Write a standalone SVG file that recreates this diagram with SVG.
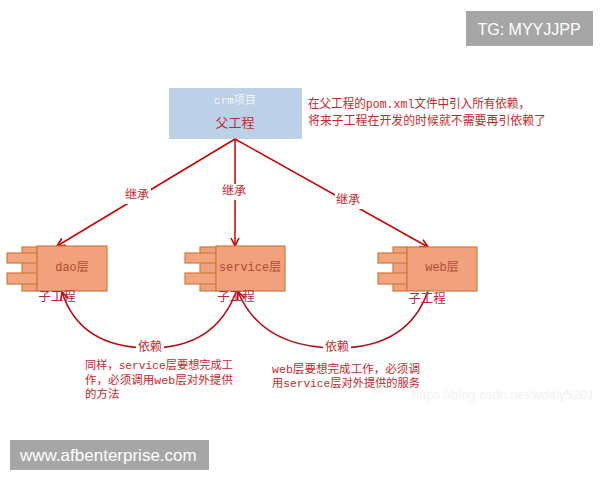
<svg xmlns="http://www.w3.org/2000/svg" width="600" height="480" viewBox="0 0 600 480">
<defs>
<marker id="arr" viewBox="0 0 10 10" refX="9" refY="5" markerWidth="10" markerHeight="10" markerUnits="userSpaceOnUse" orient="auto">
<path d="M1,1 L9,5 L1,9" fill="none" stroke="#c80000" stroke-width="1.6"/>
</marker>
<style>
.cjk{font-family:"Liberation Mono","Noto Sans CJK SC",monospace;}
.red{fill:#c8282d;}
.lbl{fill:#b24a3a;font-size:12px;text-anchor:middle;dominant-baseline:central;}
.sub{fill:#b42a3c;font-size:12.5px;text-anchor:middle;dominant-baseline:central;}
.main{fill:#f1a17c;stroke:#cd7c3e;stroke-width:1.2;}
.back{fill:#efa07c;stroke:#cd7c3e;stroke-width:1.2;}
.tab{fill:#f2a57f;stroke:#cd7c3e;stroke-width:1.2;}
.line{fill:none;stroke:#c80000;stroke-width:1.5;}
.arc{fill:none;stroke:#b40f14;stroke-width:1.6;}
.wm{fill:#a6a6a6;}
.wmt{fill:#ffffff;font-family:"Liberation Sans",Arial,sans-serif;dominant-baseline:central;}
</style>
</defs>
<rect width="600" height="480" fill="#ffffff"/>

<g id="parent">
<rect x="169" y="88" width="133" height="51" fill="#bcd0e8"/>
<text x="235" y="101" class="cjk" font-size="11" fill="#f4f6fa" text-anchor="middle" dominant-baseline="central">crm项目</text>
<text x="235" y="123" class="cjk red" font-size="13" text-anchor="middle" dominant-baseline="central">父工程</text>
</g>

<g id="note">
<text x="308" y="105" class="cjk red" font-size="12.5" dominant-baseline="central" textLength="222" lengthAdjust="spacingAndGlyphs">在父工程的pom.xml文件中引入所有依赖，</text>
<text x="308" y="122" class="cjk red" font-size="12.5" dominant-baseline="central" textLength="238" lengthAdjust="spacingAndGlyphs">将来子工程在开发的时候就不需要再引依赖了</text>
</g>

<g id="connectors">
<line class="line" x1="235" y1="139" x2="57" y2="246" marker-end="url(#arr)"/>
<line class="line" x1="235" y1="139" x2="235" y2="246" marker-end="url(#arr)"/>
<line class="line" x1="235" y1="139" x2="428" y2="247" marker-end="url(#arr)"/>
<rect x="124" y="188" width="27" height="16" fill="#ffffff"/>
<text x="137" y="196" class="cjk red" font-size="12" text-anchor="middle" dominant-baseline="central">继承</text>
<rect x="221" y="184" width="27" height="16" fill="#ffffff"/>
<text x="234" y="192" class="cjk red" font-size="12" text-anchor="middle" dominant-baseline="central">继承</text>
<rect x="335" y="193" width="27" height="16" fill="#ffffff"/>
<text x="348" y="201" class="cjk red" font-size="12" text-anchor="middle" dominant-baseline="central">继承</text>

<path class="arc" d="M236,292 Q215,348 150,348 Q80,348 62,292" marker-end="url(#arr)"/>
<path class="arc" d="M428,291 Q408,348 337,348 Q262,348 238,292" marker-end="url(#arr)"/>
<rect x="136" y="340" width="28" height="16" fill="#ffffff"/>
<text x="150" y="348" class="cjk red" font-size="12" text-anchor="middle" dominant-baseline="central">依赖</text>
<rect x="323" y="340" width="28" height="16" fill="#ffffff"/>
<text x="337" y="348" class="cjk red" font-size="12" text-anchor="middle" dominant-baseline="central">依赖</text>
</g>

<g id="dao">
<rect class="back" x="22" y="247" width="15" height="44"/>
<rect class="tab" x="7" y="253" width="30" height="10"/>
<rect class="tab" x="7" y="273" width="30" height="11"/>
<rect class="main" x="37" y="246" width="70" height="45"/>
<text x="72" y="268" class="cjk lbl">dao层</text>
<text x="57" y="298" class="cjk sub">子工程</text>
</g>

<g id="service">
<rect class="back" x="200" y="247" width="16" height="44"/>
<rect class="tab" x="185" y="253" width="31" height="10"/>
<rect class="tab" x="185" y="273" width="31" height="11"/>
<rect class="main" x="216" y="246" width="69" height="45"/>
<text x="250" y="268" class="cjk lbl">service层</text>
<text x="236" y="298" class="cjk sub">子工程</text>
</g>

<g id="web">
<rect class="back" x="393" y="247" width="14" height="44"/>
<rect class="tab" x="378" y="253" width="29" height="10"/>
<rect class="tab" x="378" y="273" width="29" height="11"/>
<rect class="main" x="407" y="247" width="70" height="44"/>
<text x="442" y="268" class="cjk lbl">web层</text>
<text x="427" y="300" class="cjk sub">子工程</text>
</g>

<g id="desc-left">
<text class="cjk red" font-size="11.5" dominant-baseline="central">
<tspan x="85" y="365" textLength="148" lengthAdjust="spacingAndGlyphs">同样，service层要想完成工</tspan>
<tspan x="85" y="380" textLength="148" lengthAdjust="spacingAndGlyphs">作，必须调用web层对外提供</tspan>
<tspan x="85" y="394">的方法</tspan>
</text>
</g>

<g id="desc-right">
<text class="cjk red" font-size="11.5" dominant-baseline="central">
<tspan x="272" y="369" textLength="148" lengthAdjust="spacingAndGlyphs">web层要想完成工作，必须调</tspan>
<tspan x="272" y="383" textLength="148" lengthAdjust="spacingAndGlyphs">用service层对外提供的服务</tspan>
</text>
</g>

<text x="412" y="394" font-family="Liberation Sans,Arial,sans-serif" font-size="13" fill="#f1f1f1" dominant-baseline="central">https://blog.csdn.net/wdaly5201</text>

<g id="wm-tg">
<rect class="wm" x="466" y="11" width="127" height="35"/>
<text class="wmt" x="529" y="29" font-size="16" text-anchor="middle">TG: MYYJJPP</text>
</g>
<g id="wm-site">
<rect class="wm" x="10" y="440" width="199" height="30"/>
<text class="wmt" x="20" y="455" font-size="17">www.afbenterprise.com</text>
</g>
</svg>
